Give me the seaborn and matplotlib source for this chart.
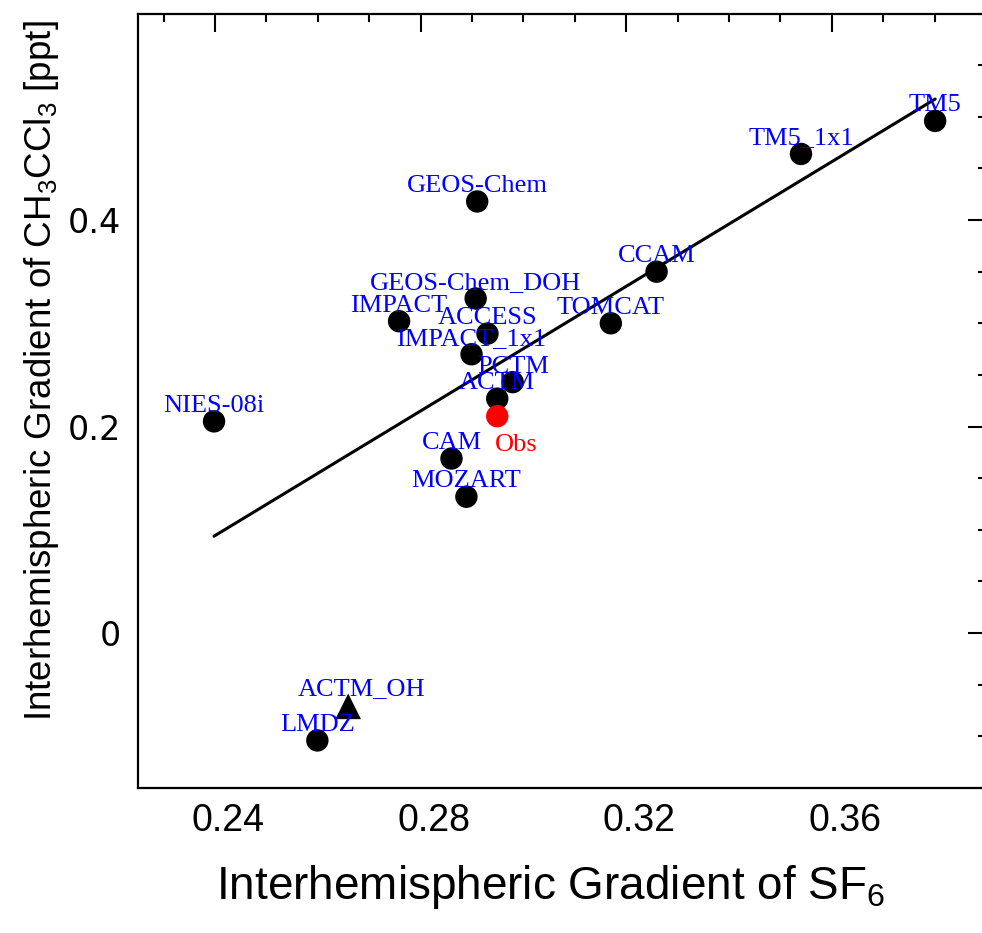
import numpy as np
import pandas as pd
import matplotlib
matplotlib.use("Agg")
import matplotlib.pyplot as plt
import matplotlib.transforms as mtransforms
import seaborn as sns
from matplotlib.ticker import MultipleLocator, FixedLocator

# model values (SF6 gradient, CH3CCl3 gradient)
models = ['TM5', 'TM5_1x1', 'GEOS-Chem', 'CCAM', 'GEOS-Chem_DOH', 'IMPACT', 'TOMCAT',
          'ACCESS', 'IMPACT_1x1', 'PCTM', 'ACTM', 'NIES-08i', 'CAM', 'MOZART', 'LMDZ']
sf6 = [0.3801, 0.3540, 0.2910, 0.3259, 0.2907, 0.2758, 0.3170,
       0.2930, 0.2899, 0.2979, 0.2949, 0.2398, 0.2860, 0.2889, 0.2599]
ch3ccl3 = [0.496, 0.464, 0.418, 0.350, 0.324, 0.302, 0.300,
           0.290, 0.270, 0.243, 0.227, 0.205, 0.169, 0.132, -0.104]

oh_name = 'ACTM_OH'
oh_sf6 = [0.2659]
oh_ch3ccl3 = [-0.071]

obs_name = 'Obs'
obs_sf6 = [0.2949]
obs_ch3ccl3 = [0.210]

df = pd.DataFrame({'model': models, 'sf6': sf6, 'ch3ccl3': ch3ccl3})

sns.set_style("white")
sans = ['Liberation Sans', 'DejaVu Sans']
plt.rcParams['font.family'] = sans
plt.rcParams['mathtext.fontset'] = 'custom'
plt.rcParams['mathtext.rm'] = 'Liberation Sans'
plt.rcParams['mathtext.it'] = 'Liberation Sans'
for k in ['text.color', 'axes.labelcolor', 'xtick.color', 'ytick.color']:
    plt.rcParams[k] = 'black'

fig = plt.figure(figsize=(9.82, 9.33), dpi=100)
ax = fig.add_axes([0.1405, 0.1555, 0.8636, 0.830])

sns.regplot(data=df, x='sf6', y='ch3ccl3', scatter=False, ci=None,
            line_kws={'color': 'black', 'linewidth': 2.2}, ax=ax)
sns.scatterplot(data=df, x='sf6', y='ch3ccl3', color='black', s=260,
                edgecolor='none', ax=ax, zorder=3)
sns.scatterplot(x=oh_sf6, y=oh_ch3ccl3, color='black', marker='^', s=340,
                edgecolor='none', ax=ax, zorder=3)
sns.scatterplot(x=obs_sf6, y=obs_ch3ccl3, color='red', s=260,
                edgecolor='none', ax=ax, zorder=4)

lab_font = dict(family='Liberation Serif', fontsize=19)
for name, x, y in zip(models, sf6, ch3ccl3):
    ax.annotate(name, (x, y), xytext=(0, 6.8), textcoords='offset points',
                ha='center', va='baseline', color='blue', zorder=5, **lab_font)
ax.annotate(oh_name, (oh_sf6[0], oh_ch3ccl3[0]), xytext=(9.5, 8.4),
            textcoords='offset points', ha='center', va='baseline',
            color='blue', zorder=5, **lab_font)
ax.annotate(obs_name, (obs_sf6[0], obs_ch3ccl3[0]), xytext=(13.7, -25),
            textcoords='offset points', ha='center', va='baseline',
            color='red', zorder=5, **lab_font)

ax.set_xlim(0.225, 0.39)
ax.set_ylim(-0.15, 0.6)
ax.xaxis.set_major_locator(FixedLocator([0.24, 0.28, 0.32, 0.36]))
ax.xaxis.set_minor_locator(MultipleLocator(0.01))
ax.yaxis.set_major_locator(FixedLocator([0.0, 0.2, 0.4]))
ax.yaxis.set_minor_locator(MultipleLocator(0.05))
ax.set_xticklabels(['0.24', '0.28', '0.32', '0.36'], fontsize=27, family=sans)
ax.set_yticklabels(['0', '0.2', '0.4'], fontsize=24, family='DejaVu Sans')

ax.tick_params(which='both', direction='in', top=True, right=True, width=1.5, color='black')
ax.tick_params(which='major', length=13)
ax.tick_params(which='minor', length=6)
ax.tick_params(axis='x', which='major', pad=11)
ax.tick_params(axis='y', which='major', pad=12)
for sp in ax.spines.values():
    sp.set_linewidth(1.6)
    sp.set_color('black')

# the original x tick labels sit a little right of their ticks
# (done after tick_params, which resets the label transforms)
shift = mtransforms.ScaledTranslation(0.13, 0, fig.dpi_scale_trans)
for lbl in ax.get_xticklabels():
    lbl.set_transform(lbl.get_transform() + shift)

ax.set_xlabel('Interhemispheric Gradient of SF$_6$', fontsize=33, family=sans,
              labelpad=17, x=0.486)
ax.set_ylabel('Interhemispheric Gradient of CH$_3$CCl$_3$ [ppt]', fontsize=26.5,
              family=sans, labelpad=5, y=0.539)

fig.savefig('out.png', dpi=100)
